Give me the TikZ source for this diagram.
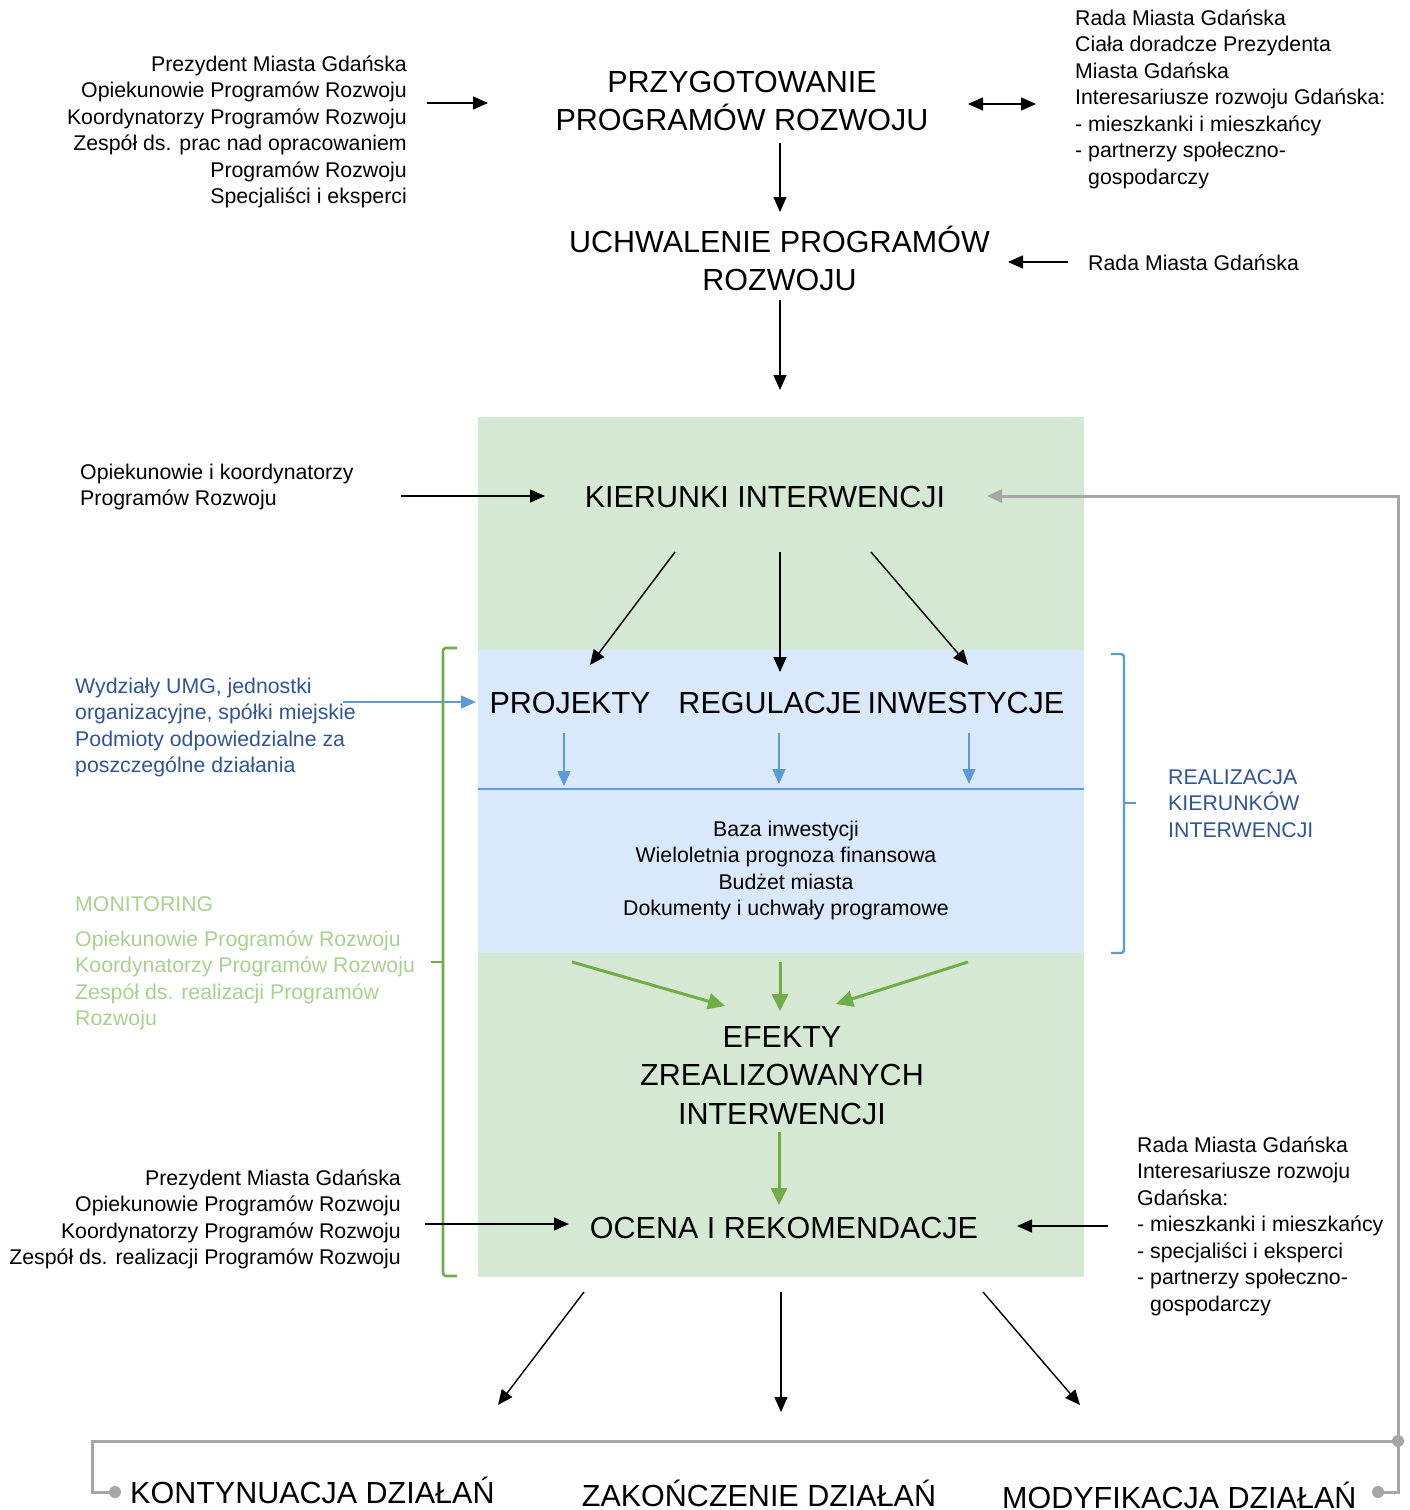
\documentclass[tikz,border=0pt]{standalone}
\usepackage{fontspec}
\setmainfont{Liberation Sans}
\usetikzlibrary{arrows.meta}
\newcommand\T{\rule{0pt}{1em}}
\definecolor{gfill}{HTML}{D5E8D4}
\definecolor{bfill}{HTML}{DAE8FC}
\definecolor{bline}{HTML}{5B9BD5}
\definecolor{btxt}{HTML}{2F5597}
\definecolor{gline}{HTML}{70AD47}
\definecolor{gtxt}{HTML}{A9D18E}
\definecolor{grey}{HTML}{A6A6A6}
\begin{document}
\begin{tikzpicture}[x=1pt,y=-1pt,
  sm/.style={inner sep=0pt,font=\fontsize{21.3}{26.5}\selectfont},
  bg/.style={inner sep=0pt,font=\fontsize{30.5}{38.7}\selectfont},
  arr/.style={line width=1.4pt,-{Triangle[length=15pt,width=13pt]}},
  barr/.style={line width=1.4pt,draw=bline,-{Triangle[length=15pt,width=13pt]}},
  garr/.style={line width=3pt,draw=gline,-{Triangle[length=17pt,width=16pt]}},
  grl/.style={line width=3pt,draw=grey},
  dot/.style={circle,fill=grey,inner sep=0pt,minimum size=12pt}]
\useasboundingbox (0,0) rectangle (1410,1510);

% background regions
\node[fill=gfill,inner sep=0pt,minimum width=606pt,minimum height=860pt,anchor=north west] (greenbox) at (478,417) {};
\node[fill=bfill,inner sep=0pt,minimum width=606pt,minimum height=303pt,anchor=north west] (bluebox) at (478,650) {};
\coordinate (bl1) at (478,789);
\coordinate (bl2) at (1084,789);
\draw[line width=1.2pt,bline] (bl1) -- (bl2);

% top
\node[sm,align=right,anchor=north east] (tl) at (407,49.7) {\T Prezydent Miasta Gdańska\\Opiekunowie Programów Rozwoju\\Koordynatorzy Programów Rozwoju\\Zespół ds. prac nad opracowaniem\\Programów Rozwoju\\Specjaliści i eksperci};
\node[bg,align=center,anchor=north] (przyg) at (742,61.5) {\T PRZYGOTOWANIE\\PROGRAMÓW ROZWOJU};
\node[sm,align=left,anchor=north west] (tr) at (1075,3.7) {\T Rada Miasta Gdańska\\Ciała doradcze Prezydenta\\Miasta Gdańska\\Interesariusze rozwoju Gdańska:\\- mieszkanki i mieszkańcy\\- partnerzy społeczno-\\\hphantom{- }gospodarczy};
\node[bg,align=center,anchor=north] (uchw) at (779.5,221.5) {\T UCHWALENIE PROGRAMÓW\\ROZWOJU};
\node[sm,anchor=base west] (rada1) at (1088,270) {Rada Miasta Gdańska};

\coordinate (a1s) at (427,103); \coordinate (a1e) at (488,103);
\draw[arr] (a1s) -- (a1e);
\coordinate (a2s) at (968,104); \coordinate (a2e) at (1036,104);
\draw[line width=1.4pt,{Triangle[length=15pt,width=13pt]}-{Triangle[length=15pt,width=13pt]}] (a2s) -- (a2e);
\coordinate (a3s) at (780,143); \coordinate (a3e) at (780,212);
\draw[arr] (a3s) -- (a3e);
\coordinate (a4s) at (780,300); \coordinate (a4e) at (780,390);
\draw[arr] (a4s) -- (a4e);
\coordinate (a5s) at (1068,262); \coordinate (a5e) at (1008,262);
\draw[arr] (a5s) -- (a5e);

% kierunki
\node[bg,anchor=base] (kier) at (765,507) {KIERUNKI INTERWENCJI};
\node[sm,align=left,anchor=north west] (opk) at (80,457.7) {\T Opiekunowie i koordynatorzy\\Programów Rozwoju};
\coordinate (a6s) at (401,496); \coordinate (a6e) at (545,496);
\draw[arr] (a6s) -- (a6e);

\node[bg,anchor=base] (proj) at (570,713) {PROJEKTY};
\node[bg,anchor=base] (reg) at (770,713) {REGULACJE};
\node[bg,anchor=base] (inw) at (966,713) {INWESTYCJE};
\coordinate (k1s) at (675,552); \coordinate (k1e) at (590,665);
\coordinate (k2s) at (780,552); \coordinate (k2e) at (780,672);
\coordinate (k3s) at (871,552); \coordinate (k3e) at (968,665);
\draw[arr] (k1s) -- (k1e);
\draw[arr] (k2s) -- (k2e);
\draw[arr] (k3s) -- (k3e);

\coordinate (b1s) at (564,733); \coordinate (b1e) at (564,786);
\coordinate (b2s) at (779,733); \coordinate (b2e) at (779,784);
\coordinate (b3s) at (969,733); \coordinate (b3e) at (969,784);
\draw[barr] (b1s) -- (b1e);
\draw[barr] (b2s) -- (b2e);
\draw[barr] (b3s) -- (b3e);

\node[sm,text=btxt,align=left,anchor=north west] (wydz) at (75,671.7) {\T Wydziały UMG, jednostki\\organizacyjne, spółki miejskie\\Podmioty odpowiedzialne za\\poszczególne działania};
\coordinate (w1s) at (343,702); \coordinate (w1e) at (476,702);
\draw[barr] (w1s) -- (w1e);

\node[sm,align=center,anchor=north] (baza) at (786,814.7) {\T Baza inwestycji\\Wieloletnia prognoza finansowa\\Budżet miasta\\Dokumenty i uchwały programowe};

% right blue brace
\coordinate (rb1) at (1111,654); \coordinate (rb2) at (1111,953); \coordinate (rbt) at (1136,803);
\draw[line width=2.4pt,bline,rounded corners=3pt] (rb1) -- (1124,654) -- (1124,953) -- (rb2);
\draw[line width=2.4pt,bline] (1124,803) -- (rbt);
\node[sm,text=btxt,align=left,anchor=north west] (real) at (1168,762.7) {\T REALIZACJA\\KIERUNKÓW\\INTERWENCJI};

% left green brace
\coordinate (lb1) at (457,648); \coordinate (lb2) at (457,1276); \coordinate (lbt) at (431,962);
\draw[line width=2.6pt,gline,rounded corners=3pt] (lb1) -- (443,648) -- (443,1276) -- (lb2);
\draw[line width=2.6pt,gline] (443,962) -- (lbt);
\node[sm,text=gtxt,anchor=base west] (mon) at (75,911) {MONITORING};
\node[sm,text=gtxt,align=left,anchor=north west] (monl) at (75,924.7) {\T Opiekunowie Programów Rozwoju\\Koordynatorzy Programów Rozwoju\\Zespół ds. realizacji Programów\\Rozwoju};

% efekty
\node[bg,align=center,anchor=north] (efk) at (782,1016.5) {\T EFEKTY\\ZREALIZOWANYCH\\INTERWENCJI};
\coordinate (g1s) at (572,962); \coordinate (g1e) at (725,1006);
\coordinate (g2s) at (780,962); \coordinate (g2e) at (780,1011);
\coordinate (g3s) at (968,962); \coordinate (g3e) at (836,1004);
\draw[garr] (g1s) -- (g1e);
\draw[garr] (g2s) -- (g2e);
\draw[garr] (g3s) -- (g3e);
\coordinate (g4s) at (779,1132); \coordinate (g4e) at (779,1205);
\draw[garr] (g4s) -- (g4e);

% ocena
\node[bg,anchor=base] (ocena) at (784,1238) {OCENA I REKOMENDACJE};
\node[sm,align=right,anchor=north east] (bl) at (401,1163.7) {\T Prezydent Miasta Gdańska\\Opiekunowie Programów Rozwoju\\Koordynatorzy Programów Rozwoju\\Zespół ds. realizacji Programów Rozwoju};
\node[sm,align=left,anchor=north west] (br) at (1137,1130.7) {\T Rada Miasta Gdańska\\Interesariusze rozwoju\\Gdańska:\\- mieszkanki i mieszkańcy\\- specjaliści i eksperci\\- partnerzy społeczno-\\\hphantom{- }gospodarczy};
\coordinate (o1s) at (425,1224); \coordinate (o1e) at (569,1224);
\draw[arr] (o1s) -- (o1e);
\coordinate (o2s) at (1108,1226); \coordinate (o2e) at (1017,1226);
\draw[arr] (o2s) -- (o2e);

% bottom arrows
\coordinate (d1s) at (584,1292); \coordinate (d1e) at (498,1405);
\coordinate (d2s) at (781,1292); \coordinate (d2e) at (781,1412);
\coordinate (d3s) at (983,1292); \coordinate (d3e) at (1080,1405);
\draw[arr] (d1s) -- (d1e);
\draw[arr] (d2s) -- (d2e);
\draw[arr] (d3s) -- (d3e);

\node[bg,anchor=base west] (kont) at (130,1503) {KONTYNUACJA DZIAŁAŃ};
\node[bg,anchor=base] (zak) at (759,1506) {ZAKOŃCZENIE DZIAŁAŃ};
\node[bg,anchor=base west] (mod) at (1002,1508) {MODYFIKACJA DZIAŁAŃ};

% grey feedback loop
\node[dot] (dl) at (115,1492) {};
\node[dot] (dr) at (1378,1492) {};
\node[dot] (dj) at (1398,1441) {};
\coordinate (kin) at (987,496);
\draw[grl,-{Triangle[length=15pt,width=13pt]}] (dr.center) -- (1398,1492) -- (1398,496) -- (kin);
\draw[grl] (dl.center) -- (92,1492) -- (92,1441) -- (dj.center);
\end{tikzpicture}
\end{document}
